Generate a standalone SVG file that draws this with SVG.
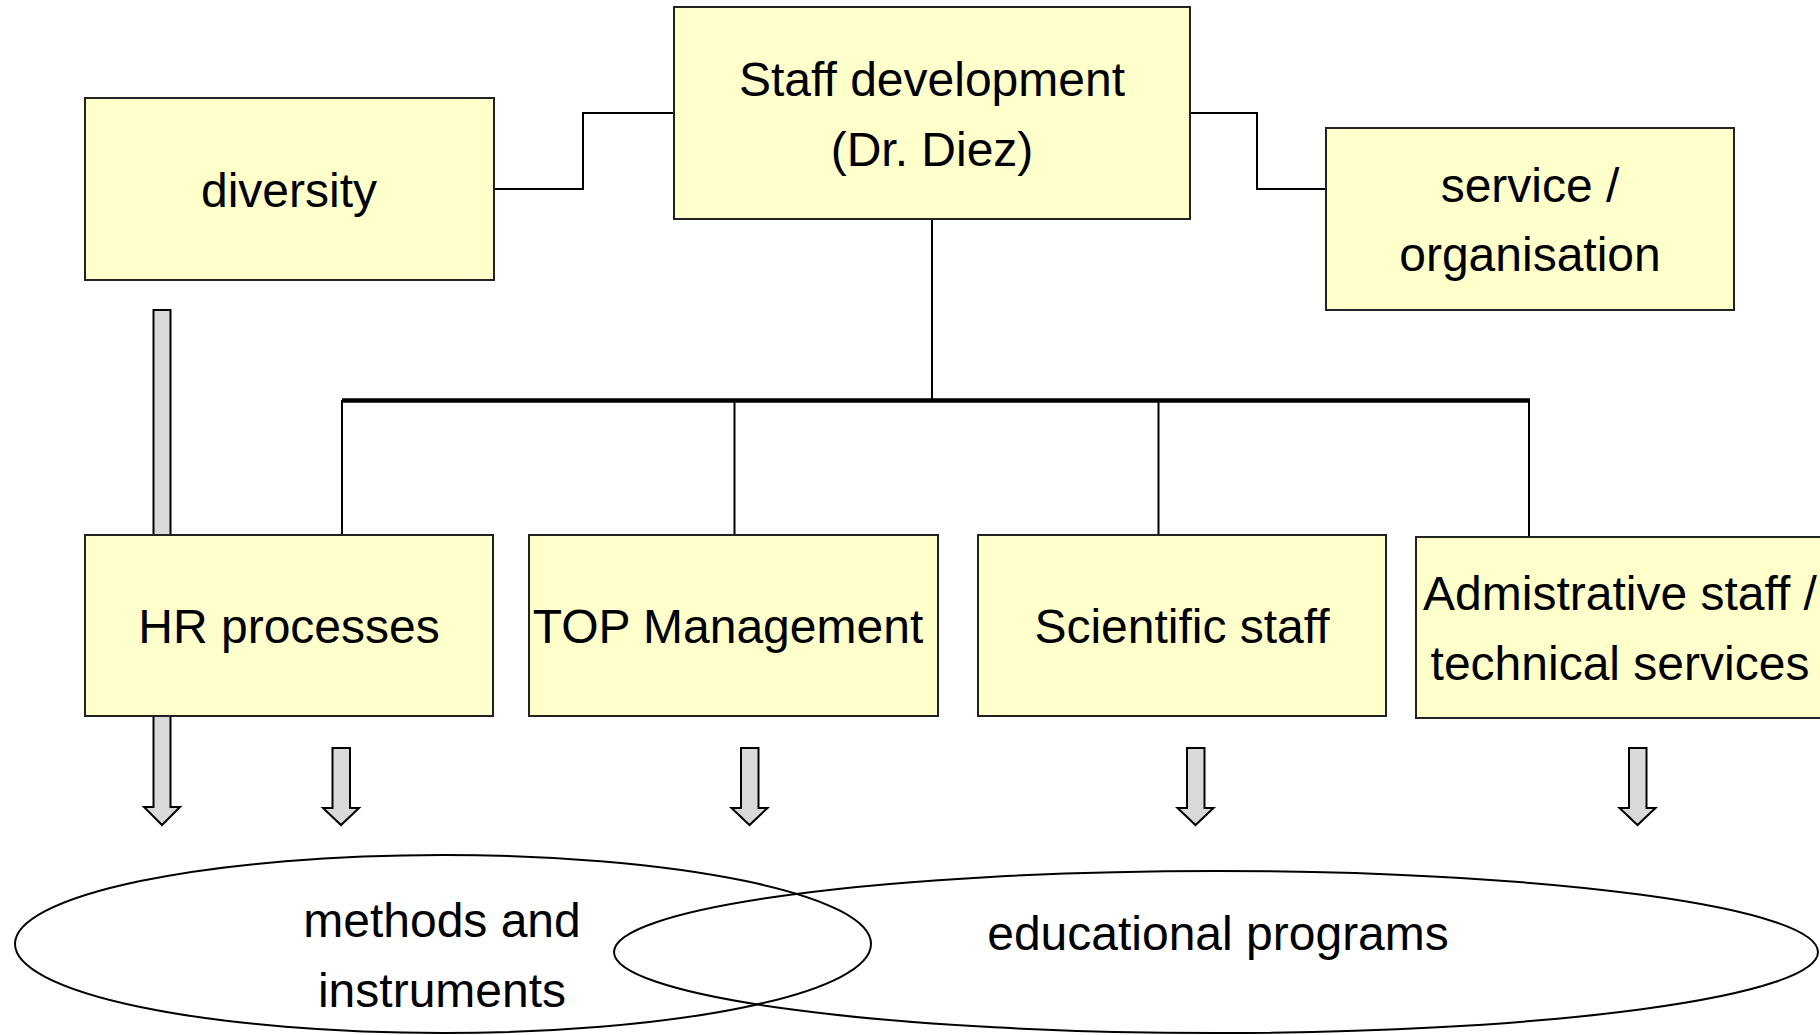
<svg xmlns="http://www.w3.org/2000/svg" width="1820" height="1035" viewBox="0 0 1820 1035">
<defs>
<style>
.box{fill:#FFFFCC;stroke:#222;stroke-width:2}
.t{font-family:"Liberation Sans",Arial,sans-serif;font-size:48px;fill:#000;text-anchor:middle}
.ln{fill:none;stroke:#000;stroke-width:2}
.bus{fill:none;stroke:#000;stroke-width:4.5}
.blk{fill:#D9D9D9;stroke:#000;stroke-width:2;stroke-linejoin:miter}
.ell{fill:none;stroke:#000;stroke-width:2}
</style>
</defs>
<rect width="1820" height="1035" fill="#fff"/>
<g id="connectors">
<path class="ln" d="M494,189 H583 V113 H674"/>
<path class="ln" d="M1190,113 H1257 V189 H1326"/>
<path class="ln" d="M932,219 V400"/>
<path class="bus" d="M342,400.5 H1530"/>
<path class="ln" d="M342,400 V535"/>
<path class="ln" d="M734.5,400 V535"/>
<path class="ln" d="M1158.5,400 V535"/>
<path class="ln" stroke-width="2.5" d="M1529,400 V537"/>
<path class="blk" d="M153.5,310 H170.5 V807 H180 L162,825 L144,807 H153.5 Z"/>
<path class="blk" d="M332.5,748 H350 V808 H359 L341,825 L323,808 H332.5 Z"/>
<path class="blk" d="M741,748 H758.5 V808 H767.5 L749.5,825 L731.5,808 H741 Z"/>
<path class="blk" d="M1187,748 H1204.5 V808 H1213.5 L1195.5,825 L1177.5,808 H1187 Z"/>
<path class="blk" d="M1629,748 H1646.5 V808 H1655.5 L1637.5,825 L1619.5,808 H1629 Z"/>
</g>
<g id="staff-development">
<rect class="box" x="674" y="7" width="516" height="212"/>
<text class="t" x="932" y="96">Staff development</text>
<text class="t" x="932" y="166">(Dr. Diez)</text>
</g>
<g id="diversity">
<rect class="box" x="85" y="98" width="409" height="182"/>
<text class="t" x="289" y="207">diversity</text>
</g>
<g id="service-organisation">
<rect class="box" x="1326" y="128" width="408" height="182"/>
<text class="t" x="1530" y="202">service /</text>
<text class="t" x="1530" y="271">organisation</text>
</g>
<g id="hr-processes">
<rect class="box" x="85" y="535" width="408" height="181"/>
<text class="t" x="289" y="643">HR processes</text>
</g>
<g id="top-management">
<rect class="box" x="529" y="535" width="409" height="181"/>
<text class="t" x="728" y="643">TOP Management</text>
</g>
<g id="scientific-staff">
<rect class="box" x="978" y="535" width="408" height="181"/>
<text class="t" x="1182" y="643">Scientific staff</text>
</g>
<g id="administrative-staff">
<rect class="box" x="1416" y="537" width="408" height="181"/>
<text class="t" x="1620" y="610">Admistrative staff /</text>
<text class="t" x="1620" y="680">technical services</text>
</g>
<g id="methods-instruments">
<ellipse class="ell" cx="443" cy="944" rx="428" ry="89"/>
<text class="t" x="442" y="937">methods and</text>
<text class="t" x="442" y="1007">instruments</text>
</g>
<g id="educational-programs">
<ellipse class="ell" cx="1216" cy="952" rx="602" ry="81"/>
<text class="t" x="1218" y="950">educational programs</text>
</g>
</svg>
